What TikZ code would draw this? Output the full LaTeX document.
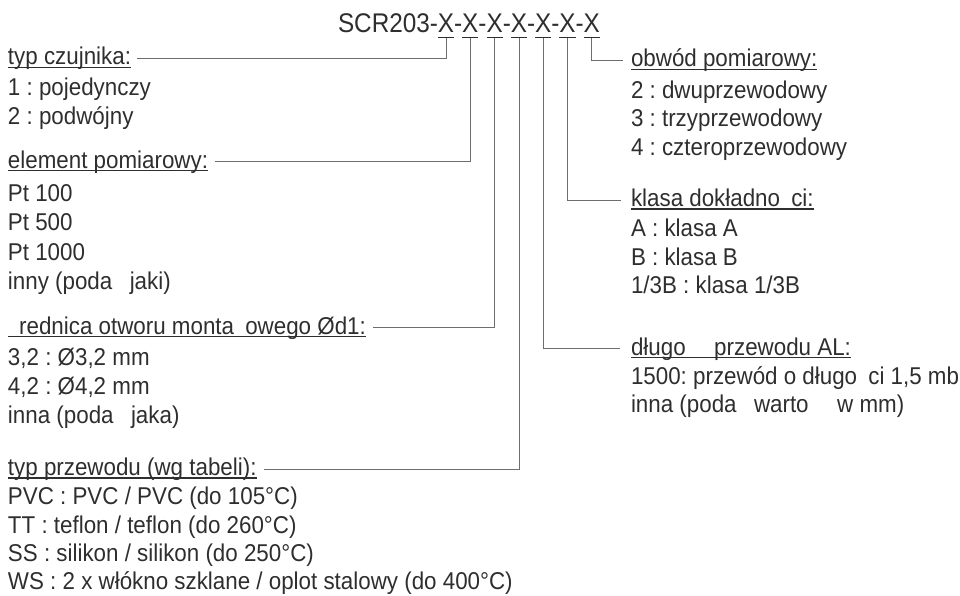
\documentclass[tikz,border=0pt]{standalone}
\usepackage{fontspec}
\setmainfont{Liberation Sans}[FakeStretch=0.92]
\newfontfamily\titlefont{Liberation Sans}[FakeStretch=0.9]
\definecolor{txt}{HTML}{2E2E2E}
\definecolor{ln}{HTML}{6E6E6E}
\tikzset{
  lbl/.style={inner sep=0pt, outer sep=0pt, anchor=base west, text=txt, font=\fontsize{24.3}{28}\selectfont},
  ttl/.style={lbl, font=\titlefont\fontsize{27}{30}\selectfont},
  conn/.style={draw=ln, line width=0.9pt},
  uline/.style={draw=txt, line width=1.5pt},
}
\frenchspacing
\begin{document}
\frenchspacing
\begin{tikzpicture}[x=1pt,y=-1pt]
\useasboundingbox (0,0) rectangle (960,596);
% title
\node[ttl] (t0) at (338,33) {SCR203-};
\node[ttl] (x1) at (t0.base east) {X};
\node[ttl] (d1) at (x1.base east) {-};
\node[ttl] (x2) at (d1.base east) {X};
\node[ttl] (d2) at (x2.base east) {-};
\node[ttl] (x3) at (d2.base east) {X};
\node[ttl] (d3) at (x3.base east) {-};
\node[ttl] (x4) at (d3.base east) {X};
\node[ttl] (d4) at (x4.base east) {-};
\node[ttl] (x5) at (d4.base east) {X};
\node[ttl] (d5) at (x5.base east) {-};
\node[ttl] (x6) at (d5.base east) {X};
\node[ttl] (d6) at (x6.base east) {-};
\node[ttl] (x7) at (d6.base east) {X};
\foreach \i in {1,...,7}
  \draw[uline] ([yshift=-4.5pt]x\i.base west) -- ([yshift=-4.5pt]x\i.base east);
% left column
\node[lbl] (h1) at (8,65) {typ czujnika:};
\node[lbl] (a11) at (8,95.5) {1 : pojedynczy};
\node[lbl] (a12) at (8,125) {2 : podwójny};
\node[lbl] (h2) at (8,168) {element pomiarowy:};
\node[lbl] (a21) at (8,201) {Pt 100};
\node[lbl] (a22) at (8,230.5) {Pt 500};
\node[lbl] (a23) at (8,260) {Pt 1000};
\node[lbl] (a24) at (8,289.5) {inny (poda\phantom{ć} jaki)};
\node[lbl] (h3) at (8,334) {\phantom{ś}rednica otworu monta\phantom{ż}owego Ød1:};
\node[lbl] (a31) at (8,365) {3,2 : Ø3,2 mm};
\node[lbl] (a32) at (8,394) {4,2 : Ø4,2 mm};
\node[lbl] (a33) at (8,423) {inna (poda\phantom{ć} jaka)};
\node[lbl] (h4) at (8,475.5) {typ przewodu (wg tabeli):};
\node[lbl] (a41) at (8,504.5) {PVC : PVC / PVC (do 105°C)};
\node[lbl] (a42) at (8,533) {TT : teflon / teflon (do 260°C)};
\node[lbl] (a43) at (8,561) {SS : silikon / silikon (do 250°C)};
\node[lbl] (a44) at (8,589) {WS : 2 x włókno szklane / oplot stalowy (do 400°C)};
% right column
\node[lbl] (h7) at (631,67) {obwód pomiarowy:};
\node[lbl] (b71) at (631,98.5) {2 : dwuprzewodowy};
\node[lbl] (b72) at (631,127) {3 : trzyprzewodowy};
\node[lbl] (b73) at (631,155.5) {4 : czteroprzewodowy};
\node[lbl] (h6) at (631,206.5) {klasa dokładno\phantom{ś}ci:};
\node[lbl] (b61) at (631,236.5) {A : klasa A};
\node[lbl] (b62) at (631,265) {B : klasa B};
\node[lbl] (b63) at (631,293.5) {1/3B : klasa 1/3B};
\node[lbl] (h5) at (631,355) {długo\phantom{ść} przewodu AL:};
\node[lbl] (b51) at (631,384) {1500: przewód o długo\phantom{ś}ci 1,5 mb};
\node[lbl] (b52) at (631,412) {inna (poda\phantom{ć} warto\phantom{ść} w mm)};
% heading underlines
\foreach \h in {h1,h2,h3,h4,h5,h6,h7}
  \draw[uline] ([yshift=-2.5pt]\h.base west) -- ([yshift=-2.5pt]\h.base east);
% connector ends
\coordinate (c1) at ([xshift=6pt,yshift=6.5pt]h1.base east);
\coordinate (c2) at ([xshift=7pt,yshift=6.5pt]h2.base east);
\coordinate (c3) at ([xshift=7pt,yshift=6.5pt]h3.base east);
\coordinate (c4) at ([xshift=7pt,yshift=6.5pt]h4.base east);
\coordinate (c5) at ([xshift=-11pt,yshift=6.5pt]h5.base west);
\coordinate (c6) at ([xshift=-10pt,yshift=6.5pt]h6.base west);
\coordinate (c7) at ([xshift=-8pt,yshift=6.5pt]h7.base west);
\foreach \i in {1,...,7}
  \draw[conn] ([yshift=-5.3pt]x\i.base) |- (c\i);
\end{tikzpicture}
\end{document}
